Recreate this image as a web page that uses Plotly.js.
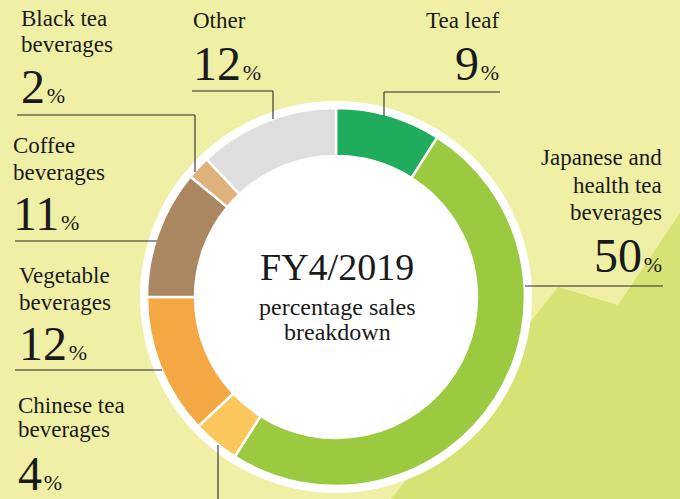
<!DOCTYPE html>
<html>
<head>
<meta charset="utf-8">
<script src="https://cdn.plot.ly/plotly-3.0.1.min.js"></script>
<style>html,body{margin:0;padding:0;background:#eff0a6;}#chart{width:680px;height:499px;}</style>
</head>
<body>
<div id="chart"></div>
<script>
// ---- data ----
const categories = ["Tea leaf", "Japanese and health tea beverages", "Chinese tea beverages",
  "Vegetable beverages", "Coffee beverages", "Black tea beverages", "Other"];
const shares = [9, 50, 4, 12, 11, 2, 12];
const labelLines = [["Tea leaf"], ["Japanese and", "health tea", "beverages"], ["Chinese tea", "beverages"],
  ["Vegetable", "beverages"], ["Coffee", "beverages"], ["Black tea", "beverages"], ["Other"]];
const centerTitle = "FY4/2019";
const centerSub = ["percentage sales", "breakdown"];

// ---- styles / positions ----
const sliceColors = ["#1fac5c", "#9bc93f", "#fbc75c", "#f4a843", "#aa8760", "#dfb27b", "#dedede"];
const W = 680, H = 499;
const X = p => p / W, Y = p => 1 - p / H;
const CX = 336, CY = 297, R = 189, RW = 196;
// label placement: [align, x, line baselines, number baseline]
const place = [
  ["right", 500, [28], 80],
  ["right", 663, [165, 193, 220], 272],
  ["left", 17, [413, 437], 490],
  ["left", 18, [283, 310], 360],
  ["left", 12, [153, 180], 230],
  ["left", 20, [26, 52], 103],
  ["left", 192, [28], 80]
];
const leaders = [
  [[384, 92], [500, 92], [384, 92], [384, 116]],
  [[525, 286], [663, 286]],
  [[218, 445], [218, 499]],
  [[15, 370], [162, 370]],
  [[15, 241], [157, 241]],
  [[17, 115], [195, 115], [195, 115], [195, 172]],
  [[192, 91], [273, 91], [273, 91], [273, 119]]
];
const FONT = "Liberation Serif";
const INK = "#1a1a1a";
const LFS = 23, NFS = 48, PFS = 22;

const annotations = [];
function ann(text, xpx, base, fs, align) {
  annotations.push({
    xref: "paper", yref: "paper", x: X(xpx), y: Y(base - 0.34 * fs),
    xanchor: align, yanchor: "middle", showarrow: false, text: text,
    font: {family: FONT, size: fs, color: INK}, borderpad: 0
  });
}
categories.forEach((c, i) => {
  const [align, x, bases, nb] = place[i];
  labelLines[i].forEach((t, j) => ann(t, x, bases[j], LFS, align));
  ann(shares[i] + "<span style='font-size:" + PFS + "px'>\u200a%</span>", x, nb, NFS, align);
});
ann(centerTitle, 337, 280, 38, "center");
ann(centerSub[0], 337, 315, 24, "center");
ann(centerSub[1], 337, 340, 24, "center");

const shapes = [];
// background green area
const bgPoly = [[391, 499], [558, 287], [618, 305], [680, 213], [680, 499]];
shapes.push({type: "path", xref: "paper", yref: "paper", layer: "below", line: {width: 0},
  fillcolor: "#d6e273",
  path: bgPoly.map((p, i) => (i ? "L" : "M") + X(p[0]) + "," + Y(p[1])).join(" ") + " Z"});
// white ring behind donut
shapes.push({type: "circle", xref: "paper", yref: "paper", layer: "below",
  x0: X(CX - RW), x1: X(CX + RW), y0: Y(CY + RW), y1: Y(CY - RW),
  fillcolor: "#ffffff", line: {width: 0}});
leaders.forEach(segs => {
  for (let k = 0; k < segs.length; k += 2) {
    shapes.push({type: "line", xref: "paper", yref: "paper", layer: "above",
      x0: X(segs[k][0]), y0: Y(segs[k][1]), x1: X(segs[k + 1][0]), y1: Y(segs[k + 1][1]),
      line: {color: "#2a2a2a", width: 1.1}});
  }
});

const trace = {
  type: "pie", labels: categories, values: shares, sort: false, direction: "clockwise",
  rotation: 0, hole: 0.746, textinfo: "none", hoverinfo: "label+percent",
  marker: {colors: sliceColors, line: {color: "#ffffff", width: 2.5}},
  domain: {x: [X(CX - R), X(CX + R)], y: [Y(CY + R), Y(CY - R)]},
  showlegend: false
};

Plotly.newPlot("chart", [trace], {
  width: W, height: H, margin: {l: 0, r: 0, t: 0, b: 0},
  paper_bgcolor: "#eff0a6", plot_bgcolor: "rgba(0,0,0,0)",
  showlegend: false, shapes: shapes, annotations: annotations
}, {displayModeBar: false, staticPlot: true});
</script>
</body>
</html>
